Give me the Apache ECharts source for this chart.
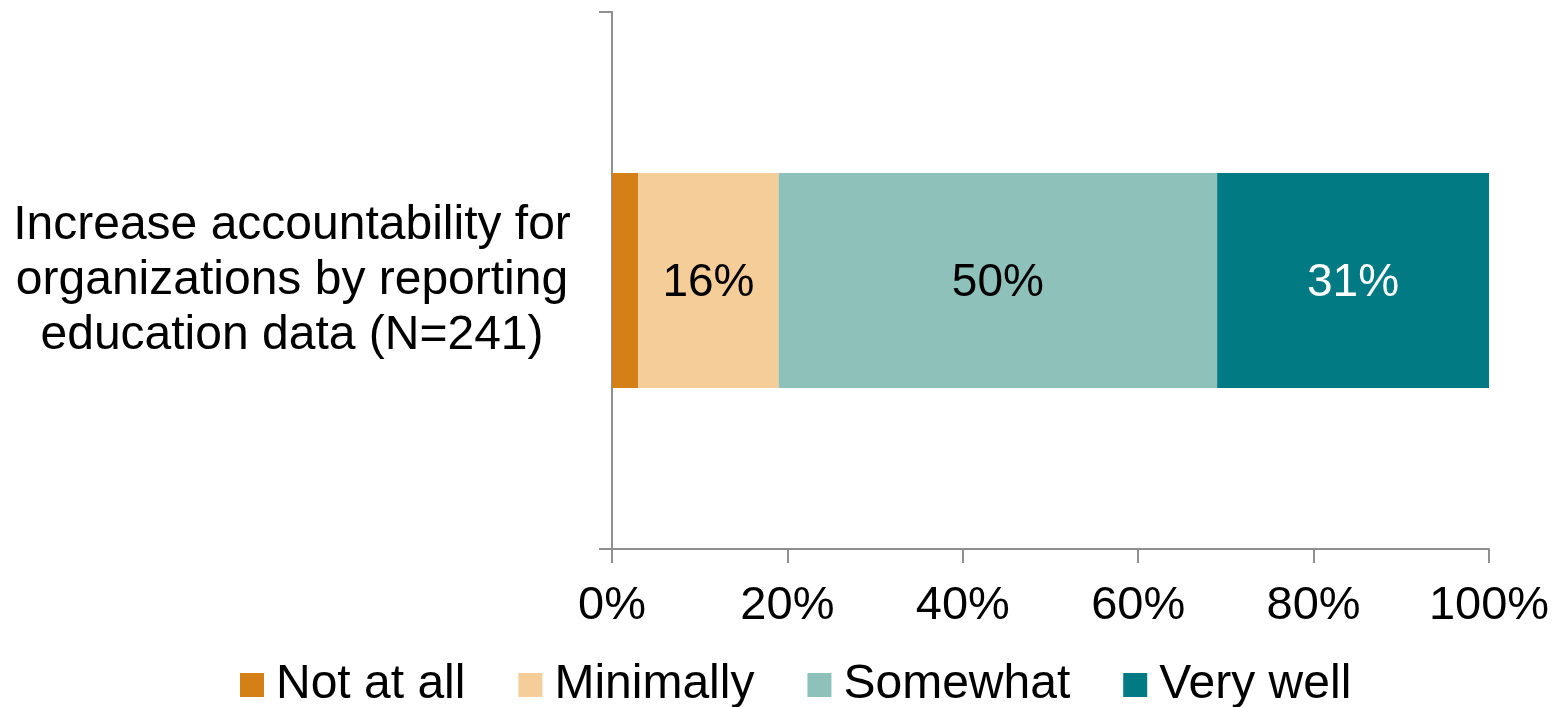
<!DOCTYPE html>
<html>
<head>
<meta charset="utf-8">
<script src="https://cdn.jsdelivr.net/npm/echarts@6/dist/echarts.min.js"></script>
<style>
  html, body { margin: 0; padding: 0; background: #ffffff; }
  #chart { width: 1558px; height: 707px; }
</style>
</head>
<body>
<div id="chart"></div>
<script>
// Survey item and response shares (percent)
const categories = ['Increase accountability for\norganizations by reporting\neducation data (N=241)'];
const responseLevels = ['Not at all', 'Minimally', 'Somewhat', 'Very well'];
const notAtAll = [3];
const minimally = [16];
const somewhat = [50];
const veryWell = [31];
const xTicks = [0, 20, 40, 60, 80, 100];

const levelColors = ['#D48017', '#F5CD98', '#8FC1BB', '#017A84'];
const labelColors = [null, '#000000', '#000000', '#ffffff'];
const seriesValues = [notAtAll, minimally, somewhat, veryWell];

const FONT = "'Liberation Sans', Arial, Helvetica, sans-serif";
const AXIS_GRAY = '#8f8f8f';

const chart = echarts.init(document.getElementById('chart'), null, { renderer: 'canvas' });

const series = responseLevels.map((name, i) => ({
  name: name,
  type: 'bar',
  stack: 'total',
  barWidth: '40%',
  data: seriesValues[i],
  itemStyle: { color: levelColors[i] },
  label: {
    show: labelColors[i] !== null,
    position: 'inside',
    offset: [0, 3],
    formatter: '{c}%',
    color: labelColors[i] || '#000',
    fontFamily: FONT,
    fontSize: 46
  },
  emphasis: { disabled: true }
}));

chart.setOption({
  animation: false,
  backgroundColor: '#ffffff',
  textStyle: { fontFamily: FONT },
  grid: { left: 612, right: 69, top: 12, bottom: 158, containLabel: false },
  legend: {
    data: responseLevels,
    left: 235,
    top: 656,
    icon: 'rect',
    itemWidth: 24,
    itemHeight: 24,
    itemGap: 53,
    textStyle: {
      fontFamily: FONT,
      fontSize: 48,
      color: '#000000',
      padding: [0, 0, 0, 7]
    }
  },
  xAxis: {
    type: 'value',
    min: xTicks[0],
    max: xTicks[xTicks.length - 1],
    interval: xTicks[1] - xTicks[0],
    axisLine: { show: true, lineStyle: { color: AXIS_GRAY, width: 2 } },
    axisTick: { show: true, length: 14, lineStyle: { color: AXIS_GRAY, width: 2 } },
    splitLine: { show: false },
    axisLabel: {
      formatter: '{value}%',
      color: '#000000',
      fontFamily: FONT,
      fontSize: 47,
      margin: 34
    }
  },
  yAxis: {
    type: 'category',
    data: categories,
    axisLine: { show: true, lineStyle: { color: AXIS_GRAY, width: 2 } },
    axisTick: { show: true, length: 13, alignWithLabel: false, lineStyle: { color: AXIS_GRAY, width: 2 } },
    splitLine: { show: false },
    axisLabel: {
      color: '#000000',
      fontFamily: FONT,
      fontSize: 48,
      lineHeight: 55,
      align: 'center',
      margin: 320,
      padding: [6, 0, 0, 0]
    }
  },
  series: series
});
</script>
</body>
</html>
